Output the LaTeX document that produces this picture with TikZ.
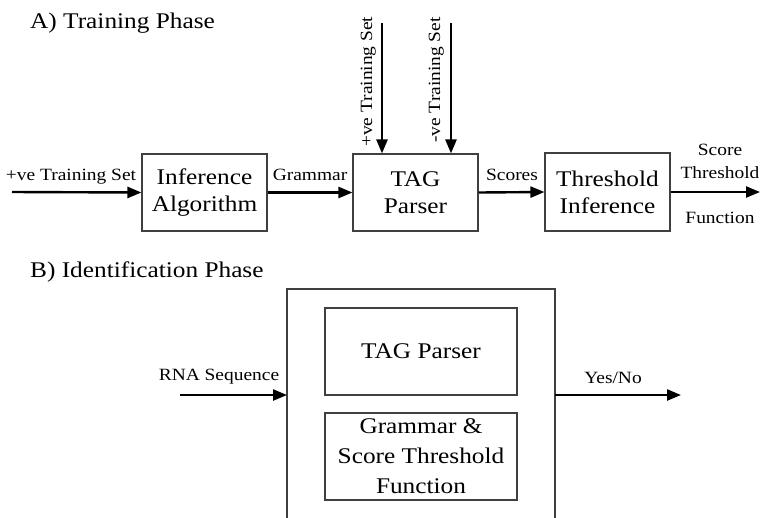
\documentclass[tikz,border=0pt]{standalone}
\usepackage{fontspec}
\setmainfont{Liberation Serif}[FakeStretch=1.13]
\usetikzlibrary{arrows.meta}
\begin{document}
\begin{tikzpicture}[x=1pt,y=-1pt,
  boxA/.style={draw=black!75,line width=1.1pt,minimum width=125pt,minimum height=77pt,inner sep=0pt,align=center,font=\fontsize{22.4}{27}\selectfont},
  boxB/.style={draw=black!75,line width=1.1pt,minimum width=192pt,minimum height=87pt,inner sep=0pt,align=center,font=\fontsize{22.4}{30}\selectfont},
  title/.style={anchor=base west,inner sep=0pt,font=\fontsize{22.4}{27}\selectfont},
  lbl/.style={anchor=base,inner sep=0pt,font=\fontsize{17.2}{20}\selectfont},
  vlbl/.style={anchor=base west,rotate=90,inner sep=0pt,font=\fontsize{17.2}{20}\selectfont},
  arr/.style={line width=2.4pt,-{Triangle[length=14pt,width=11pt]}}]
\useasboundingbox (0,0) rectangle (762,517);
\clip (0,0) rectangle (762,517);
% Part A
\node[title] (tA) at (30,28) {A) Training Phase};
\node[boxA] (inf) at (204.5,192.5) {Inference\\Algorithm};
\node[boxA] (tag) at (415.5,192.5) {TAG\\Parser};
\node[boxA,minimum height=78pt] (thr) at (607.5,192) {Threshold\\Inference};
\coordinate (inA) at (12,192);
\coordinate (outA) at (760,192);
\coordinate (p1) at (382,23);
\coordinate (p2) at (451,23);
\draw[arr] (inA) -- (inf.west);
\draw[arr] (inf.east) -- (tag.west);
\draw[arr] (tag.east) -- (thr.west);
\draw[arr] (thr.east |- outA) -- (outA);
\draw[arr] (p1) -- (p1 |- tag.north);
\draw[arr] (p2) -- (p2 |- tag.north);
\node[lbl] (l1) at (71,180) {+ve Training Set};
\node[lbl] (l2) at (310,180) {Grammar};
\node[lbl] (l3) at (512,180) {Scores};
\node[lbl] (l4) at (720,155) {Score};
\node[lbl] (l5) at (720,178) {Threshold};
\node[lbl] (l6) at (720,223) {Function};
\node[vlbl] (v1) at (372,147) {+ve Training Set};
\node[vlbl] (v2) at (440,143) {-ve Training Set};
% Part B
\node[title] (tB) at (30,277) {B) Identification Phase};
\draw[draw=black!75,line width=1.1pt] (287,520) -- (287,289) -- (555,289) -- (555,520);
\node[boxB] (tag2) at (421,351.5) {TAG Parser};
\node[boxB] (gr) at (421,456.5) {Grammar \&\\Score Threshold\\Function};
\coordinate (inB) at (180,395);
\coordinate (bigL) at (287,395);
\coordinate (bigR) at (555,395);
\coordinate (outB) at (681,395);
\draw[arr] (inB) -- (bigL);
\draw[arr] (bigR) -- (outB);
\node[lbl] (l7) at (219,380) {RNA Sequence};
\node[lbl] (l8) at (613,383) {Yes/No};
\end{tikzpicture}
\end{document}
